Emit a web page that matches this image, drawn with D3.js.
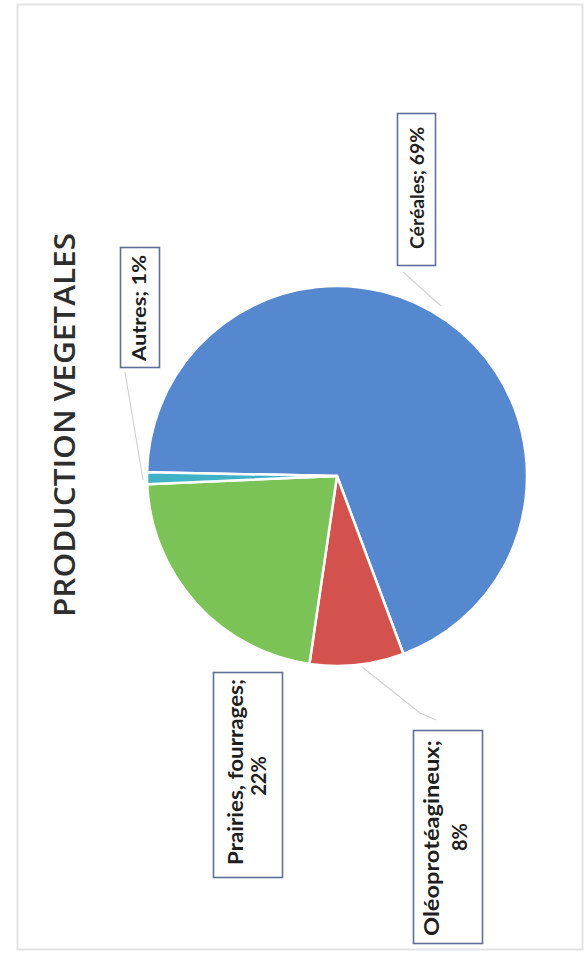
<!DOCTYPE html>
<html>
<head>
<meta charset="utf-8">
<script src="https://cdn.jsdelivr.net/npm/d3@7"></script>
<style>
  html, body { margin: 0; padding: 0; background: #fff; }
  svg { display: block; }
</style>
</head>
<body>
<svg id="chart" width="586" height="962"></svg>
<script>
// Répartition de la production végétale (%)
const categories = ["Céréales", "Oléoprotéagineux", "Prairies, fourrages", "Autres"];
const values = [69, 8, 22, 1];
const colors = ["#5688cf", "#d4524e", "#7bc257", "#3fb2c8"];
const title = "PRODUCTION VEGETALES";

const svg = d3.select("#chart");

// page frame
svg.append("rect")
  .attr("x", 17.5).attr("y", 4.5).attr("width", 565).attr("height", 945)
  .attr("fill", "none").attr("stroke", "#e3e3e3").attr("stroke-width", 2);

// pie (the chart is laid out turned a quarter turn to the left)
const cx = 337, cy = 476, R = 190;
const start = -Math.PI / 2 + 0.02;
const pie = d3.pie().sort(null).value(d => d.v)
  .startAngle(start).endAngle(start + 2 * Math.PI);
const data = categories.map((c, i) => ({ name: c, v: values[i], color: colors[i] }));
const arcs = pie(data);
const arc = d3.arc().innerRadius(0).outerRadius(R);

const g = svg.append("g").attr("transform", `translate(${cx},${cy})`);
g.selectAll("path").data(arcs).enter().append("path")
  .attr("d", arc)
  .attr("fill", d => d.data.color)
  .attr("stroke", "#fff")
  .attr("stroke-width", 2.5)
  .attr("stroke-linejoin", "round");

// label boxes, text lines [x baseline, y centre, length] and leader lines
const layout = {
  "Céréales":            { box: [397, 113, 38, 152], size: 19, lines: [[424, 188, 122]], leader: [[403, 272], [441, 306]] },
  "Autres":              { box: [120, 247, 39, 120], size: 19, lines: [[146, 308, 106]], leader: [[125, 372], [143, 480]] },
  "Prairies, fourrages": { box: [213, 672, 69, 205], size: 20, lines: [[243, 772, 186], [266, 776, null]], leader: null },
  "Oléoprotéagineux":    { box: [413, 730, 69, 213], size: 20, lines: [[439, 838, 196], [467, 837, null]], leader: [[362, 667], [420, 713], [436, 720]] }
};

const fmt = d => d.v + "%";
const labelFont = "Lato, 'Open Sans', 'Liberation Sans', sans-serif";

arcs.forEach(a => {
  const L = layout[a.data.name];
  if (L.leader) {
    svg.append("path")
      .attr("d", d3.line()(L.leader))
      .attr("fill", "none").attr("stroke", "#d2d2d2").attr("stroke-width", 1.2);
  }
  svg.append("rect")
    .attr("x", L.box[0] + 0.5).attr("y", L.box[1] + 0.5)
    .attr("width", L.box[2]).attr("height", L.box[3])
    .attr("fill", "#fff").attr("stroke", "#5f6f96").attr("stroke-width", 1.6);
  const texts = L.lines.length === 1
    ? [a.data.name + "; " + fmt(a.data)]
    : [a.data.name + ";", fmt(a.data)];
  texts.forEach((t, i) => {
    const [x, y, len] = L.lines[i];
    const txt = svg.append("text")
      .attr("transform", `translate(${x},${y}) rotate(-90)`)
      .attr("text-anchor", "middle")
      .attr("font-family", labelFont)
      .attr("font-weight", 700)
      .attr("font-size", L.size)
      .attr("fill", "#1e1e1e")
      .text(t);
    if (len) txt.attr("textLength", len).attr("lengthAdjust", "spacingAndGlyphs");
  });
});

// title
svg.append("text")
  .attr("transform", `translate(75,425) rotate(-90)`)
  .attr("text-anchor", "middle")
  .attr("font-family", "'Open Sans', 'Liberation Sans', sans-serif")
  .attr("font-weight", 600)
  .attr("font-size", 28)
  .attr("textLength", 384)
  .attr("lengthAdjust", "spacingAndGlyphs")
  .attr("fill", "#2e2e2e")
  .text(title);
</script>
</body>
</html>
